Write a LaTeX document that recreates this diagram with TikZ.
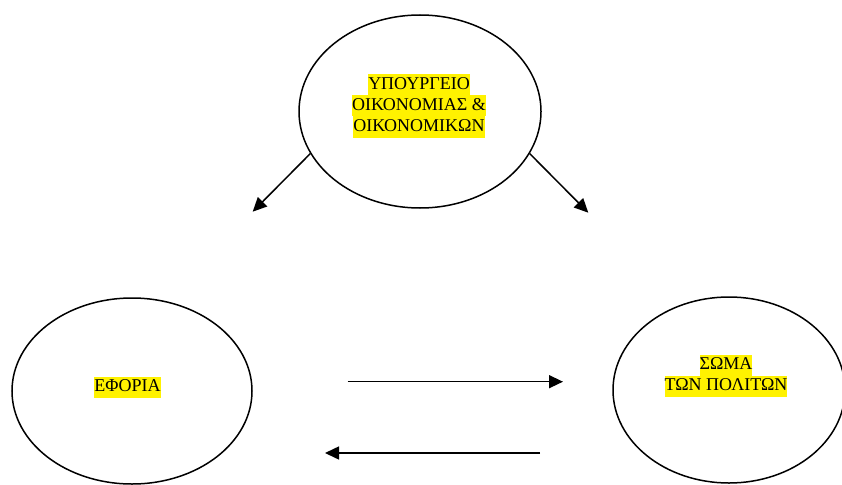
\documentclass[tikz,border=0pt]{standalone}
\usepackage{fontspec}
\setmainfont{Liberation Serif}
\usepackage{xcolor}
\usepackage{tikz}
\usetikzlibrary{shapes.geometric, arrows.meta, positioning}

\newcommand{\hilite}[1]{{\setlength{\fboxsep}{0pt}\colorbox{yellow}{\strut #1}}}

\begin{document}
\begin{tikzpicture}[
    x=1pt, y=-1pt,
    org/.style={ellipse, draw=black, line width=1.5pt, inner sep=0pt},
    tag/.style={inner sep=0pt, align=center, font=\fontsize{18}{21}\selectfont},
    arrow/.style={-{Triangle[length=14pt, width=13pt]}, line width=1.5pt}
]
\useasboundingbox (0,0) rectangle (842,484);

% Ellipses
\node[org, minimum width=242pt, minimum height=193pt] (ministry) at (420, 111.5) {};
\node[org, minimum width=240pt, minimum height=186pt] (tax) at (132, 391) {};
\node[org, minimum width=232pt, minimum height=186pt] (citizens) at (729, 390) {};

% Labels
\node[tag] (ministrytext) at (419, 106) {\hilite{ΥΠΟΥΡΓΕΙΟ}\\\hilite{ΟΙΚΟΝΟΜΙΑΣ \&}\\\hilite{ΟΙΚΟΝΟΜΙΚΩΝ}};
\node[tag] (taxtext) at (127.5, 387) {\hilite{ΕΦΟΡΙΑ}};
\node[tag] (citizenstext) at (726, 376) {\hilite{ΣΩΜΑ}\\\hilite{ΤΩΝ ΠΟΛΙΤΩΝ}};

% Free ends
\coordinate (downleft) at (252.7, 211.7);
\coordinate (downright) at (588.3, 212.7);
\coordinate (toA) at (347.7, 381.7);
\coordinate (toB) at (563, 381.7);
\coordinate (backA) at (540, 453);
\coordinate (backB) at (325, 453);

% Ministry flows
\draw[arrow] (ministry.201.5) -- (downleft);
\draw[arrow] (ministry.-21) -- (downright);

% Tax office and citizens
\draw[arrow] (toA) -- (toB);
\draw[arrow] (backA) -- (backB);

\end{tikzpicture}
\end{document}
